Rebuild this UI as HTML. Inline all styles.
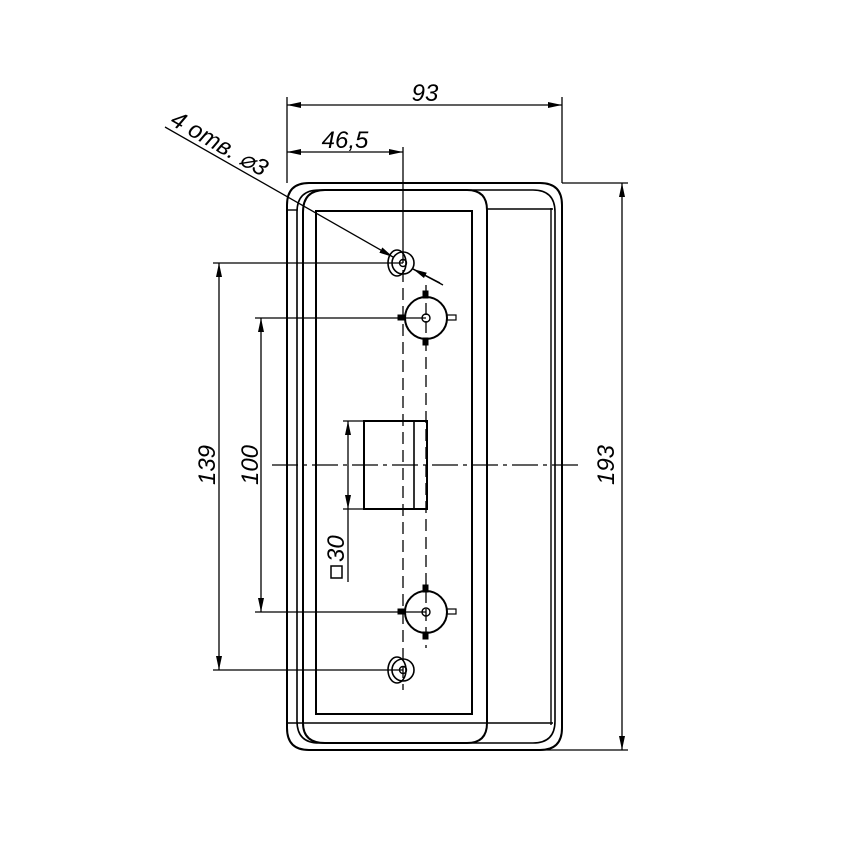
<!DOCTYPE html>
<html><head><meta charset="utf-8"><style>html,body{margin:0;padding:0;background:#fff}svg{display:block}</style></head>
<body>
<svg width="850" height="850" viewBox="0 0 850 850" xmlns="http://www.w3.org/2000/svg">
<defs>
<marker id="a" viewBox="0 0 14 6" refX="14" refY="3" markerWidth="14" markerHeight="6" markerUnits="userSpaceOnUse" orient="auto-start-reverse"><path d="M0,0 L14,3 L0,6 Z" fill="#000"/></marker>
</defs>
<g fill="none" stroke="#000" stroke-width="2">
<path d="M287,722 L287,205 Q287,183 309,183 L540,183 Q562,183 562,205 L562,728 Q562,750 540,750 L309,750 Q287,750 287,728 Z"/>
<path d="M297,722 L297,212 Q297,190 319,190 L533,190 Q555,190 555,212 L555,721 Q555,743 533,743 L319,743 Q297,743 297,721 Z" stroke-width="1.6"/>
<line x1="551" y1="208" x2="551" y2="725" stroke-width="1.4"/>
<line x1="287" y1="210" x2="297" y2="210" stroke-width="1.4"/>
<path d="M303,723 L303,212 Q303,190 325,190 L467,190 Q487,190 487,210 L487,723 Q487,743 467,743 L325,743 Q303,743 303,723 Z"/>
<rect x="316" y="211" width="156" height="503"/>
<line x1="487" y1="209" x2="553" y2="209" stroke-width="1.6"/>
<line x1="287" y1="723" x2="553" y2="723" stroke-width="1.6"/>
<rect x="364" y="421" width="63" height="88"/>
<line x1="414" y1="421" x2="414" y2="509" stroke-width="1.6"/>
<ellipse cx="397" cy="263" rx="9" ry="13" stroke-width="1.6"/>
<circle cx="403" cy="263" r="11" stroke-width="1.6"/>
<circle cx="403" cy="263" r="3.5" stroke-width="1.4"/>
<ellipse cx="397" cy="670" rx="9" ry="13" stroke-width="1.6"/>
<circle cx="403" cy="670" r="11" stroke-width="1.6"/>
<circle cx="403" cy="670" r="3.5" stroke-width="1.4"/>
<g id="h1">
<circle cx="426" cy="318" r="21"/>
<circle cx="426" cy="318" r="4" stroke-width="1.4"/>
<rect x="423" y="291" width="5" height="7" fill="#000" stroke-width="1"/>
<rect x="423" y="338" width="5" height="7" fill="#000" stroke-width="1"/>
<rect x="398" y="315" width="7" height="5" fill="#000" stroke-width="1"/>
<rect x="447" y="315" width="9" height="5" stroke-width="1.2"/>
</g>
<use href="#h1" transform="translate(0,294)"/>
</g>
<g fill="none" stroke="#000" stroke-width="1.3">
<line x1="403" y1="270" x2="403" y2="690" stroke-dasharray="12,6"/>
<line x1="426" y1="285" x2="426" y2="648" stroke-dasharray="12,6"/>
<line x1="272" y1="465" x2="582" y2="465" stroke-dasharray="26,5,4,5"/>
<line x1="287" y1="97" x2="287" y2="183"/>
<line x1="562" y1="97" x2="562" y2="183"/>
<line x1="287" y1="105" x2="562" y2="105" marker-start="url(#a)" marker-end="url(#a)"/>
<line x1="403" y1="147" x2="403" y2="263"/>
<line x1="287" y1="152" x2="403" y2="152" marker-start="url(#a)" marker-end="url(#a)"/>
<line x1="562" y1="183" x2="628" y2="183"/>
<line x1="540" y1="750" x2="628" y2="750"/>
<line x1="622" y1="183" x2="622" y2="750" marker-start="url(#a)" marker-end="url(#a)"/>
<line x1="213" y1="263" x2="403" y2="263"/>
<line x1="213" y1="670" x2="403" y2="670"/>
<line x1="219" y1="263" x2="219" y2="670" marker-start="url(#a)" marker-end="url(#a)"/>
<line x1="255" y1="318" x2="426" y2="318"/>
<line x1="255" y1="612" x2="426" y2="612"/>
<line x1="261" y1="318" x2="261" y2="612" marker-start="url(#a)" marker-end="url(#a)"/>
<line x1="343" y1="421" x2="364" y2="421"/>
<line x1="343" y1="509" x2="364" y2="509"/>
<line x1="348" y1="421" x2="348" y2="509" marker-start="url(#a)" marker-end="url(#a)"/>
<line x1="348" y1="509" x2="348" y2="582"/>
<line x1="165" y1="127" x2="393" y2="257" marker-end="url(#a)"/>
<line x1="413" y1="269" x2="443" y2="285"/>
<line x1="440" y1="283" x2="413" y2="269" marker-end="url(#a)"/>
</g>
<g font-family="Liberation Sans, sans-serif" font-size="24" font-style="italic" fill="#000">
<text x="425" y="101" text-anchor="middle">93</text>
<text x="345" y="148" text-anchor="middle">46,5</text>
<text transform="translate(614,465) rotate(-90)" text-anchor="middle">193</text>
<text transform="translate(215,465) rotate(-90)" text-anchor="middle">139</text>
<text transform="translate(258,465) rotate(-90)" text-anchor="middle">100</text>
<text transform="translate(344,562) rotate(-90)" text-anchor="start">30</text>
<text transform="translate(169,124) rotate(29.6)">4 отв. ⌀3</text>
</g>
<rect x="331" y="566" width="11" height="12" fill="none" stroke="#000" stroke-width="1.5"/>
</svg>
</body></html>
